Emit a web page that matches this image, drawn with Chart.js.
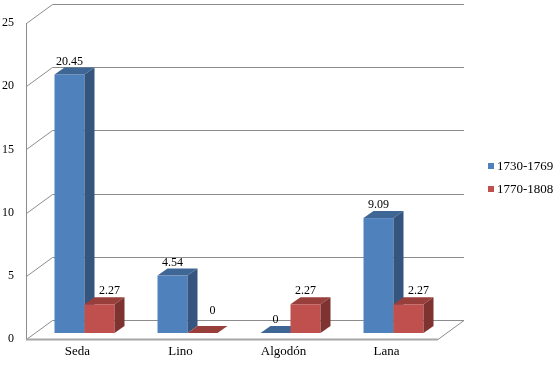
<!DOCTYPE html>
<html>
<head>
<meta charset="utf-8">
<script src="https://cdn.jsdelivr.net/npm/chart.js@4/dist/chart.umd.min.js"></script>
<style>
  html, body { margin: 0; padding: 0; background: #ffffff; }
  #wrap { width: 559px; height: 365px; }
</style>
</head>
<body>
<div id="wrap"><canvas id="c" width="559" height="365"></canvas></div>
<script>
const categories = ['Seda', 'Lino', 'Algodón', 'Lana'];
const series1730 = [20.45, 4.54, 0, 9.09];
const series1770 = [2.27, 0, 2.27, 2.27];
const seriesNames = ['1730-1769', '1770-1808'];
const yMin = 0, yMax = 25, yStep = 5;

const FONT = '"Liberation Serif", "Times New Roman", serif';
const palette = [
  { front: '#4F81BD', top: '#3E6796', side: '#35557F' },
  { front: '#C0504D', top: '#983F3C', side: '#7F3331' }
];
// 3D geometry (pixels)
const WALL_DX = 26, WALL_DY = -19;   // depth of the plot box
const BAR_IX = 7, BAR_IY = -6;       // bars sit slightly behind front plane
const BAR_DX = 10, BAR_DY = -7;      // bar depth

function poly(ctx, pts, fill) {
  ctx.beginPath();
  ctx.moveTo(pts[0][0], pts[0][1]);
  for (let i = 1; i < pts.length; i++) ctx.lineTo(pts[i][0], pts[i][1]);
  ctx.closePath();
  ctx.fillStyle = fill;
  ctx.fill();
}

const threeD = {
  id: 'threeD',
  beforeDatasetsDraw(chart) {
    const ctx = chart.ctx;
    const a = chart.chartArea;
    const ys = chart.scales.y;
    ctx.save();
    const fy = a.bottom;
    ctx.beginPath();
    ctx.moveTo(a.left, fy);
    ctx.lineTo(a.right, fy);
    ctx.lineTo(a.right + WALL_DX, fy + WALL_DY);
    ctx.lineTo(a.left + WALL_DX, fy + WALL_DY);
    ctx.closePath();
    ctx.fillStyle = '#ffffff';
    ctx.fill();
    ctx.strokeStyle = '#8C8C8C';
    ctx.lineWidth = 1;
    for (let v = yMin; v <= yMax; v += yStep) {
      const py = Math.round(ys.getPixelForValue(v)) + 0.5;
      ctx.beginPath();
      ctx.moveTo(a.left + 0.5, py);
      ctx.lineTo(a.left + WALL_DX + 0.5, py + WALL_DY);
      ctx.lineTo(a.right + WALL_DX, py + WALL_DY);
      ctx.stroke();
    }
    ctx.beginPath();
    ctx.moveTo(a.left + 0.5, Math.round(ys.getPixelForValue(yMax)));
    ctx.lineTo(a.left + 0.5, fy + 0.5);
    ctx.stroke();
    ctx.beginPath();
    ctx.moveTo(a.right, fy + 0.5);
    ctx.lineTo(a.right + WALL_DX, fy + WALL_DY + 0.5);
    ctx.stroke();
    ctx.strokeStyle = '#A6A6A6';
    ctx.lineWidth = 2;
    ctx.beginPath();
    ctx.moveTo(a.left, fy + 0.5);
    ctx.lineTo(a.right, fy + 0.5);
    ctx.stroke();

    const n = chart.data.labels.length;
    for (let i = 0; i < n; i++) {
      chart.data.datasets.forEach((ds, di) => {
        const el = chart.getDatasetMeta(di).data[i];
        const c = palette[di];
        const l = el.x - el.width / 2 + BAR_IX;
        const r = el.x + el.width / 2 + BAR_IX;
        const t = el.y + BAR_IY;
        const b = el.base + BAR_IY;
        ctx.fillStyle = c.front;
        ctx.fillRect(l, t, r - l, b - t);
        poly(ctx, [[l, t], [r, t], [r + BAR_DX, t + BAR_DY], [l + BAR_DX, t + BAR_DY]], c.top);
        if (b - t > 0.5) {
          poly(ctx, [[r, t], [r + BAR_DX, t + BAR_DY], [r + BAR_DX, b + BAR_DY], [r, b]], c.side);
        }
      });
    }
    ctx.fillStyle = '#000000';
    ctx.font = '12px ' + FONT;
    ctx.textAlign = 'center';
    ctx.textBaseline = 'alphabetic';
    for (let i = 0; i < n; i++) {
      chart.data.datasets.forEach((ds, di) => {
        const el = chart.getDatasetMeta(di).data[i];
        const v = ds.data[i];
        let x = el.x + BAR_IX;
        let y = el.y + BAR_IY + BAR_DY - 3;
        if (di === 1) {
          const prev = chart.data.datasets[0].data[i];
          if (prev > v) {
            x += 10;
            if (v === 0) y -= 9;
          }
        }
        ctx.fillText(String(v), x, y);
      });
    }
    ctx.textAlign = 'left';
    ctx.textBaseline = 'middle';
    ctx.font = '13px ' + FONT;
    chart.data.datasets.forEach((ds, di) => {
      const cy = 166 + di * 23;
      ctx.fillStyle = ds.backgroundColor;
      ctx.fillRect(488, cy - 3, 6, 6);
      ctx.fillStyle = '#000000';
      ctx.fillText(ds.label, 497, cy + 1);
    });
    ctx.restore();
    return false;
  }
};

new Chart(document.getElementById('c'), {
  type: 'bar',
  data: {
    labels: categories,
    datasets: [
      { label: seriesNames[0], data: series1730, backgroundColor: palette[0].front },
      { label: seriesNames[1], data: series1770, backgroundColor: palette[1].front }
    ]
  },
  options: {
    responsive: false,
    devicePixelRatio: 1,
    animation: false,
    categoryPercentage: 60 / 103,
    barPercentage: 1,
    layout: { padding: { top: 23, right: 121, left: 0, bottom: 0 } },
    plugins: { legend: { display: false }, tooltip: { enabled: false } },
    scales: {
      x: {
        grid: { display: false },
        border: { display: false },
        ticks: { color: '#000', font: { family: FONT, size: 13 }, padding: -3, maxRotation: 0 },
        afterFit(s) { s.height = 26; }
      },
      y: {
        min: yMin, max: yMax,
        grid: { display: false, drawTicks: false },
        border: { display: false },
        ticks: { stepSize: yStep, color: '#000', font: { family: FONT, size: 12 }, padding: 12 },
        afterFit(s) { s.width = 26; }
      }
    }
  },
  plugins: [threeD]
});
</script>
</body>
</html>
